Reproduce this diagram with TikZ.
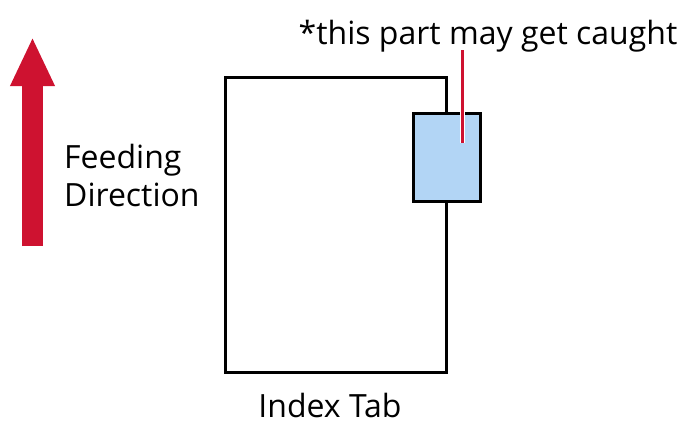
\documentclass[tikz,border=0pt]{standalone}
\usepackage{fontspec}
\setmainfont{Open Sans}
\usetikzlibrary{arrows.meta}
\definecolor{feedred}{RGB}{206,18,48}
\definecolor{tabblue}{RGB}{178,213,245}
\begin{document}
\begin{tikzpicture}[x=1pt, y=-1pt, line join=miter, font=\fontsize{32}{38}\selectfont]
			\tikzset{pagebox/.style={draw, line width=3pt, minimum width=221pt, minimum height=295pt, inner sep=0pt},
				tabbox/.style={draw, fill=tabblue, line width=3pt, minimum width=67pt, minimum height=88pt, inner sep=0pt},
				label text/.style={inner sep=0pt}}
			\useasboundingbox (0,0) rectangle (685,423);
			\draw[feedred, line width=21pt, -{Triangle[width=41pt, length=49pt]}] (32.5,246)--(32.5,37);
			\node[label text, align=left, anchor=north west] (feed) at (64,144) {Feeding\\Direction};
			\node[pagebox] (page) at (335.5,224.5) {};
			\node[tabbox] (tab) at (446.5,157) {};
			\node[label text, anchor=base] (caught) at (488,44) {*this part may get caught};
			\node[label text, anchor=base] (index) at (330,417) {Index Tab};
			\coordinate (tip) at (462,143);
			\draw[white, line width=5pt] (tip)--(tab.north -| tip);
			\draw[feedred, line width=3pt] ([yshift=-6pt]caught.base -| tip)--(tip);
		\end{tikzpicture}
\end{document}
